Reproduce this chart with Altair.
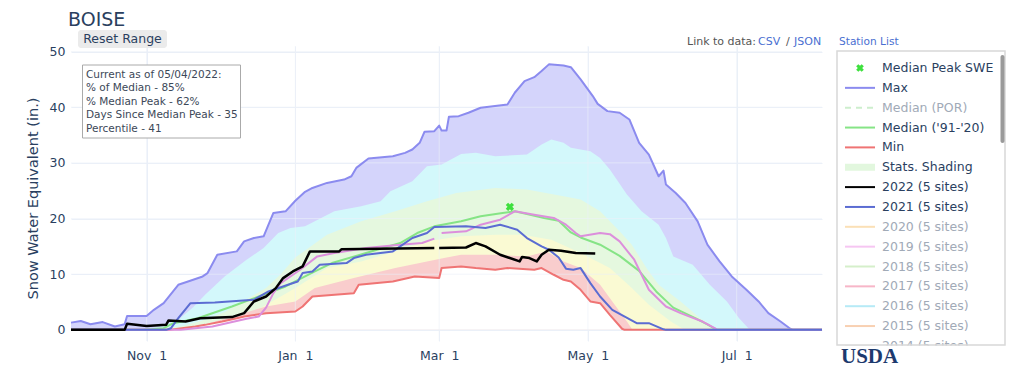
import altair as alt
import pandas as pd

START = pd.Timestamp("2021-10-01")   # day 0 of the water year

# ---- statistics (day of water year, SWE inches) ----
MAX = [(0,1.3),(4,1.6),(8,1.0),(13,1.4),(18,0.6),(22,1.0),(23,2.5),(31,2.5),(34,3.6),(38,4.8),
       (44,8.1),(48,8.7),(54,9.6),(56,10.2),(60,13.5),(68,14.1),(71,15.9),(75,16.5),(79,16.8),(83,21.0),
       (88,21.3),(92,23.2),(96,24.8),(99,25.5),(105,26.4),(112,27.0),(115,27.6),(117,29.1),(122,30.8),(132,31.2),
       (137,31.8),(140,32.4),(143,33.6),(145,35.6),(149,35.7),(151,36.7),(152,35.8),(154,35.8),(155,38.3),(159,38.4),
       (163,39.0),(168,39.9),(179,40.5),(182,42.6),(186,44.7),(190,45.4),(193,46.5),(196,47.7),(202,47.5),(205,47.2),
       (209,45.0),(214,42.0),(216,40.6),(220,39.3),(225,39.0),(229,37.8),(233,33.6),(237,31.5),(241,27.6),(243,28.6),
       (244,26.1),(248,24.6),(252,22.8),(257,19.5),(261,15.3),(266,12.3),(271,9.6),(277,7.2),(282,5.1),(286,3.0),
       (291,1.5),(295,0.2),(296,0.0),(308,0.0)]
P90 = [(0,0),(28,0),(36,0.5),(44,1.8),(50,4.0),(55,6.3),(63,9.6),(72,12.6),(79,14.7),(85,17.4),(90,18.3),
       (96,18.6),(100,19.5),(108,21.3),(119,22.2),(127,23.1),(131,24.9),(140,26.7),(146,29.4),(152,29.7),
       (160,31.6),(166,31.8),(174,31.2),(187,31.5),(193,33.3),(197,34.2),(202,33.6),(205,32.7),(213,32.1),
       (217,30.9),(221,28.8),(228,24.3),(234,21.3),(241,18.9),(244,16.5),(247,13.2),(255,11.7),(262,8.1),
       (269,5.1),(274,2.1),(278,0.2),(279,0),(308,0)]
P70 = [(0,0),(30,0),(45,0.6),(55,1.8),(63,3.2),(72,5.5),(80,7.5),(86,10.0),(92,13.0),(105,17.1),(119,19.5),
       (133,21.3),(146,23.1),(158,24.6),(174,25.5),(187,25.2),(202,24.0),(209,23.4),(217,21.3),(225,17.7),
       (230,15.3),(236,11.1),(241,8.1),(250,5.1),(258,2.1),(265,0.2),(266,0),(308,0)]
P30 = [(0,0),(40,0),(55,0.5),(60,1.0),(72,2.5),(80,4.5),(88,6.5),(92,7.5),(105,11.1),(119,12.3),(133,14.1),
       (146,15.9),(160,16.8),(174,17.1),(185,17.1),(197,16.2),(209,13.8),(221,11.1),(230,7.5),(237,4.5),
       (246,1.5),(251,0.2),(252,0),(308,0)]
P10 = [(0,0),(40,0),(52,0.6),(66,2.4),(80,4.2),(92,5.1),(100,7.5),(116,9.3),(133,11.1),(146,12.3),(153,12.9),
       (160,13.5),(174,13.5),(187,13.2),(195,14.1),(202,12.3),(209,11.1),(217,8.1),(222,5.1),(228,1.5),
       (230,0.2),(231,0),(308,0)]
MIN = [(0,0),(40,0),(51,0.6),(55,0.9),(62,1.5),(68,2.1),(71,2.4),(80,3.0),(92,3.3),(95,4.2),(99,6.0),
       (116,6.6),(118,8.1),(132,8.7),(141,9.6),(151,9.3),(152,11.1),(160,11.4),(166,11.1),(174,10.8),(179,11.1),
       (190,10.8),(193,11.1),(198,9.9),(202,9.0),(205,8.7),(209,7.2),(213,5.1),(217,4.8),(221,2.7),(226,0.2),
       (227,0),(308,0)]
MEDIAN = [(0,0),(30,0),(38,0.3),(42,1.2),(52,2.1),(66,4.2),(77,6.0),(88,7.8),(100,10.5),(107,12.0),(121,13.8),
          (135,15.6),(142,17.4),(149,18.6),(160,19.5),(168,20.4),(177,21.0),(182,21.3),(187,20.8),(194,20.1),
          (200,19.6),(205,17.5),(209,16.6),(217,15.3),(225,13.3),(233,10.6),(240,6.9),(247,4.0),(256,2.1),
          (261,1.0),(264,0.2),(265,0),(308,0)]
PEAK_DAY = [180]
PEAK_VAL = [22.1]

# ---- individual years ----
Y2022 = [(0,0),(22,0),(23,1.1),(31,0.7),(39,0.9),(40,1.7),(47,1.5),(53,2.1),(66,2.3),(71,3.0),(75,5.1),
         (80,6.0),(84,7.5),(87,9.3),(91,10.5),(95,11.4),(98,14.1),(110,14.1),(111,14.5),(149,14.7),
         (151,14.7),(162,14.8),(166,15.6),(170,15.0),(176,13.5),(184,12.3),(185,13.1),(188,12.9),(191,12.3),
         (193,13.5),(196,14.4),(201,14.2),(207,13.8),(215,13.7)]
Y2021 = [(0,0),(39,0),(41,0.3),(44,2.1),(49,4.8),(59,4.9),(75,5.4),(81,6.9),(89,8.1),(93,8.7),(95,10.2),
         (99,10.5),(102,11.7),(113,12.0),(116,12.9),(121,13.5),(132,14.1),(135,15.0),(140,16.5),(146,17.4),
         (149,18.5),(162,18.6),(170,18.3),(176,18.9),(183,18.0),(187,16.5),(193,15.0),(196,14.4),(200,13.0),
         (203,11.0),(206,10.8),(209,11.1),(213,8.4),(217,6.0),(222,3.6),(232,1.2),(237,1.2),(243,0.1),(244,0),(308,0)]
ORCHID = [(0,0),(45,0),(58,0.6),(72,2.0),(77,2.4),(80,4.0),(83,6.6),(86,8.4),(94,10.8),(101,13.2),(108,13.8),
          (121,14.7),(135,15.3),(144,15.6),(149,16.4),(152,17.4),(162,17.7),(168,18.9),(176,19.8),(182,21.3),
          (190,20.7),(198,20.1),(203,18.9),(207,17.4),(209,16.8),(217,17.4),(221,17.2),(225,15.9),(231,12.6),
          (237,7.2),(244,4.2),(250,3.0),(259,1.5),(264,0.3),(265,0),(308,0)]
GAP_DAY = 150   # missing value splits the 2022 and orchid traces

# ---- axes ----
Y_TICKS = [0, 10, 20, 30, 40, 50]
X_TICK_DAYS = [31, 92, 151, 212, 273]
END_DAY = 308

# ---- legend ----
LEG_LABELS = ["Median Peak SWE", "Max", "Median (POR)", "Median ('91-'20)", "Min", "Stats. Shading",
              "2022 (5 sites)", "2021 (5 sites)", "2020 (5 sites)", "2019 (5 sites)", "2018 (5 sites)",
              "2017 (5 sites)", "2016 (5 sites)", "2015 (5 sites)", "2014 (5 sites)"]
LEG_KIND = ["marker", "line", "dash", "line", "line", "shade", "line", "line", "line", "line", "line",
            "line", "line", "line", "line"]
LEG_COLOR = ["#3ee03e", "#8b8bef", "#cdeecd", "#86e486", "#ef7474", "#e2f7de", "#000000", "#5b6cd2",
             "#fbe0b6", "#f6c6f2", "#d5efca", "#f7b6c8", "#b6eaf6", "#f8d0b2", "#dddddd"]
LEG_ACTIVE = [1, 1, 0, 1, 1, 1, 1, 1, 0, 0, 0, 0, 0, 0, 0]

INFO_LINES = ["Current as of 05/04/2022:", "% of Median - 85%", "% Median Peak - 62%",
              "Days Since Median Peak - 35", "Percentile - 41"]

FONT = "DejaVu Sans"
TXT = "#2a3f5f"


def to_dates(days):
    return START + pd.to_timedelta(days, unit="D")


def series_df(pairs, gap=None):
    days = [p[0] for p in pairs]
    vals = [p[1] for p in pairs]
    seg = [0 if (gap is None or d < gap) else 1 for d in days]
    return pd.DataFrame({"date": to_dates(days), "value": vals, "seg": seg})


def dt(ts):
    return alt.DateTime(year=ts.year, month=ts.month, date=ts.day)


X_SCALE = alt.Scale(domain=[dt(START), dt(START + pd.Timedelta(days=END_DAY))])
X_AXIS = alt.Axis(values=[dt(t) for t in to_dates(X_TICK_DAYS)],
                  labelExpr="timeFormat(datum.value, '%b') + '\u00a0\u00a0' + timeFormat(datum.value, '%-d')",
                  grid=True, gridColor="#ebf0f8", domain=False, ticks=False, labelPadding=8,
                  labelFontSize=12.5, labelColor=TXT, labelFont=FONT, title=None)
Y_AXIS = alt.Axis(values=Y_TICKS, grid=True, gridColor="#ebf0f8", domain=False, ticks=False,
                  labelPadding=6, labelFontSize=12.5, labelColor=TXT, labelFont=FONT,
                  title="Snow Water Equivalent (in.)", titleFont=FONT, titleFontSize=14.5,
                  titleFontWeight="normal", titleColor=TXT, titleAngle=270, titleX=-38, titleY=152,
                  titleAlign="center", titleBaseline="middle")


def xenc():
    return alt.X("date:T", scale=X_SCALE, axis=X_AXIS, title=None)


def yenc(axis=None):
    return alt.Y("value:Q", scale=alt.Scale(domain=[-2, 51], nice=False, zero=False), axis=axis, title=None)


def area(pairs, color, first=False):
    return alt.Chart(series_df(pairs)).mark_area(color=color, opacity=1).encode(
        x=xenc(), y=yenc(Y_AXIS if first else None), y2=alt.datum(0))


def line(pairs, color, width, gap=None):
    return alt.Chart(series_df(pairs, gap)).mark_line(color=color, strokeWidth=width, strokeJoin="round").encode(
        x=xenc(), y=yenc(), detail="seg:N")


layers = [
    area(MAX, "#d4d4fb", first=True),
    area(P90, "#d3f8fb"),
    area(P70, "#e5f8df"),
    area(P30, "#fafad3"),
    area(P10, "#f9cdcd"),
    area(MIN, "#ffffff"),
]

grid_y = alt.Chart(pd.DataFrame({"value": Y_TICKS})).mark_rule(color="#ebf0f8", opacity=0.6).encode(y=yenc())
grid_x = alt.Chart(pd.DataFrame({"date": to_dates(X_TICK_DAYS)})).mark_rule(color="#ebf0f8", opacity=0.6).encode(x=xenc())
layers += [grid_y, grid_x]

layers += [
    line(MAX, "#8b8bef", 2),
    line(MIN, "#ef7474", 2),
    line(MEDIAN, "#86e486", 2),
    line(ORCHID, "#dc8fdc", 2, GAP_DAY),
    line(Y2021, "#5b6cd2", 2),
    line(Y2022, "#000000", 2.5, GAP_DAY),
]

peak_df = pd.DataFrame({"date": to_dates(PEAK_DAY), "value": PEAK_VAL})
layers.append(alt.Chart(peak_df).mark_point(shape="cross", angle=45, filled=True, size=70, color="#3ee03e",
                                            opacity=1).encode(x=xenc(), y=yenc()))

# ---- annotations ----
ONE = pd.DataFrame({"k": [0]})


def text(s, x, y, size, color=TXT, align="left", baseline="middle", font=FONT, **kw):
    return alt.Chart(ONE).mark_text(text=s, align=align, baseline=baseline, font=font, fontSize=size,
                                    color=color, **kw).encode(x=alt.value(x), y=alt.value(y))


def rect(x, x2, y, y2, **kw):
    return alt.Chart(ONE).mark_rect(**kw).encode(x=alt.value(x), x2=alt.value(x2), y=alt.value(y), y2=alt.value(y2))


layers += [
    text("BOISE", -3, -35.5, 19, baseline="top"),
    rect(7, 96, -16, 2, fill="#ebebeb", cornerRadius=3),
    text("Reset Range", 51.5, -7, 12.5, align="center"),
    rect(11.5, 169.5, 19, 92, fill="#ffffff", stroke="#aaaaaa", strokeWidth=1),
    alt.Chart(ONE).mark_text(text="\n".join(INFO_LINES), align="left", baseline="top", font=FONT,
                             fontSize=10.5, lineHeight=13.6, lineBreak="\n", color="#3c4858").encode(
        x=alt.value(15), y=alt.value(23.5)),
    text("Link to data:", 616, -4, 11, color="#555555"),
    text("CSV", 687, -4, 11, color="#4a6fd1"),
    text("/", 715, -4, 11, color="#555555"),
    text("JSON", 723, -4, 11, color="#4a6fd1"),
    text("Station List", 768, -4, 10.6, color="#4a6fd1"),
]

# ---- legend ----
leg = pd.DataFrame({
    "label": LEG_LABELS,
    "row": list(range(len(LEG_LABELS))),
    "kind": LEG_KIND,
    "scolor": LEG_COLOR,
    "tcolor": [TXT if a else "#a1aab7" for a in LEG_ACTIVE],
})


def leg_y():
    return alt.Y("row:Q", scale=alt.Scale(domain=[0, 14], range=[22, 299.9], nice=False, zero=False), axis=None)


leg_base = alt.Chart(leg)
layers += [
    rect(766, 934, 5, 299, fill="#ffffff"),
    leg_base.mark_text(align="left", baseline="middle", font=FONT, fontSize=12.5).encode(
        x=alt.value(811), y=leg_y(), text="label:N", color=alt.Color("tcolor:N", scale=None)),
    leg_base.transform_filter("datum.kind == 'line'").mark_rule(strokeWidth=2).encode(
        x=alt.value(774), x2=alt.value(804), y=leg_y(), color=alt.Color("scolor:N", scale=None)),
    leg_base.transform_filter("datum.kind == 'dash'").mark_rule(strokeWidth=2, strokeDash=[6, 5]).encode(
        x=alt.value(774), x2=alt.value(804), y=leg_y(), color=alt.Color("scolor:N", scale=None)),
    leg_base.transform_filter("datum.kind == 'shade'").mark_rule(strokeWidth=7).encode(
        x=alt.value(774), x2=alt.value(804), y=leg_y(), color=alt.Color("scolor:N", scale=None)),
    leg_base.transform_filter("datum.kind == 'marker'").mark_point(shape="cross", angle=45, filled=True,
                                                                  size=60, opacity=1).encode(
        x=alt.value(789), y=leg_y(), color=alt.Color("scolor:N", scale=None)),
    rect(762, 938, 299.5, 312, fill="#ffffff"),
    rect(766, 934, 5, 299, fill="#ffffff", fillOpacity=0, stroke="#d8d8d8", strokeWidth=1.5),
    rect(929.5, 933.5, 9, 97, fill="#9a9a9a", cornerRadius=2),
    text("USDA", 770, 321, 21, color="#1d3a6e", baseline="bottom", font="Liberation Serif", fontWeight="bold"),
]

chart = alt.layer(*layers).resolve_scale(y="independent").properties(
    width=751, height=295,
    autosize=alt.AutoSizeParams(type="none"),
    padding={"left": 63, "top": 38, "right": 190, "bottom": 27},
    background="#ffffff",
).configure_view(stroke="transparent")

chart.save("out.html", embed_options={"renderer": "svg", "actions": False})
